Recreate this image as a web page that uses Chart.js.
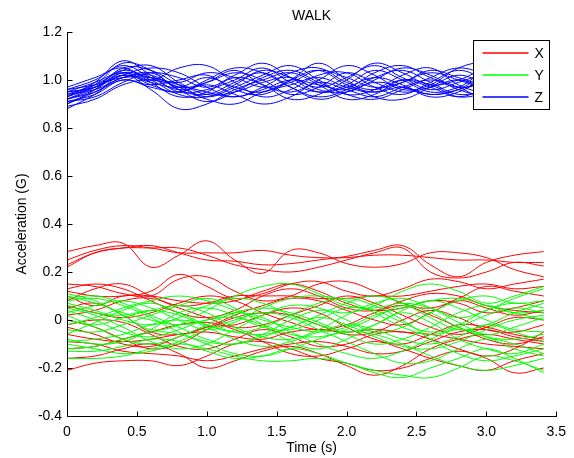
<!DOCTYPE html>
<html><head><meta charset="utf-8">
<script src="https://cdn.jsdelivr.net/npm/chart.js@4"></script>
<style>html,body{margin:0;padding:0;background:#fff}canvas{display:block}</style>
</head><body>
<canvas id="c" width="574" height="458"></canvas>
<script>
// sample times (s)
const timeS = [0,0.2,0.4,0.6,0.8,1.0,1.2,1.4,1.6,1.8,2.0,2.2,2.4,2.6,2.8,3.0,3.2,3.41];

// X-axis acceleration traces (G)
const accelX = [
 [0.285,0.31,0.32,0.22,0.27,0.33,0.25,0.195,0.29,0.28,0.235,0.22,0.235,0.28,0.28,0.26,0.21,0.18],
 [0.23,0.28,0.30,0.31,0.28,0.25,0.245,0.23,0.235,0.25,0.265,0.29,0.31,0.23,0.18,0.24,0.27,0.285],
 [0.22,0.28,0.30,0.30,0.30,0.27,0.23,0.21,0.20,0.22,0.25,0.28,0.30,0.20,0.175,0.20,0.24,0.225],
 [0.25,0.29,0.31,0.30,0.28,0.28,0.28,0.29,0.27,0.26,0.26,0.27,0.27,0.26,0.25,0.25,0.24,0.24],
 [0.15,0.14,0.11,0.10,0.17,0.18,0.12,0.08,0.10,0.15,0.16,0.12,0.07,0.05,0.09,0.14,0.12,0.10],
 [0.12,0.10,0.10,0.12,0.19,0.14,0.09,0.11,0.15,0.16,0.12,0.10,0.13,0.17,0.16,0.13,0.15,0.17],
 [0.08,0.13,0.15,0.10,0.06,0.07,0.10,0.10,0.10,0.09,0.09,0.10,0.10,0.12,0.14,0.15,0.13,0.14],
 [0.10,0.06,0.10,0.10,0.08,0.07,0.08,0.12,0.15,0.12,0.07,0.04,0.05,0.08,0.07,0.03,0.05,0.08],
 [0.05,0.07,0.02,-0.05,-0.06,-0.03,0.02,0.06,0.09,0.08,0.04,0.00,-0.02,0.03,0.08,0.05,0.02,0.04],
 [0.00,-0.03,-0.08,-0.12,-0.10,-0.04,0.01,0.03,0.02,-0.02,-0.06,-0.05,0.00,0.04,0.01,-0.04,-0.05,-0.02],
 [-0.03,-0.06,-0.10,-0.11,-0.07,-0.03,-0.02,0.02,0.05,0.03,-0.03,-0.08,-0.10,-0.06,-0.02,-0.03,-0.06,-0.08],
 [-0.06,-0.08,-0.09,-0.08,-0.06,-0.05,-0.07,-0.08,-0.05,-0.04,-0.05,-0.04,-0.05,-0.06,-0.08,-0.10,-0.11,-0.12],
 [-0.09,-0.10,-0.13,-0.14,-0.15,-0.17,-0.15,-0.12,-0.10,-0.09,-0.11,-0.14,-0.13,-0.09,-0.05,-0.04,-0.07,-0.09],
 [-0.21,-0.18,-0.17,-0.17,-0.19,-0.15,-0.10,-0.09,-0.12,-0.16,-0.18,-0.21,-0.20,-0.16,-0.13,-0.16,-0.22,-0.20],
 [-0.16,-0.15,-0.12,-0.10,-0.14,-0.20,-0.17,-0.13,-0.11,-0.14,-0.19,-0.23,-0.19,-0.12,-0.08,-0.06,-0.08,-0.10],
 [0.02,0.04,0.08,0.09,0.05,0.01,-0.03,-0.02,0.02,0.06,0.10,0.07,0.02,-0.03,-0.06,-0.03,0.01,0.00],
 [0.13,0.15,0.13,0.08,0.03,0.01,0.04,0.10,0.13,0.10,0.05,0.04,0.08,0.11,0.10,0.06,0.04,0.03],
 [-0.02,0.00,-0.01,-0.06,-0.11,-0.12,-0.08,-0.04,-0.07,-0.11,-0.10,-0.06,-0.05,-0.08,-0.12,-0.15,-0.12,-0.05],
 [0.06,0.03,0.01,0.03,0.07,0.10,0.08,0.03,-0.01,-0.04,-0.02,0.03,0.06,0.02,-0.03,-0.08,-0.10,-0.07],
 [-0.12,-0.11,-0.08,-0.05,-0.02,-0.01,-0.04,-0.09,-0.14,-0.15,-0.12,-0.09,-0.12,-0.16,-0.19,-0.21,-0.17,-0.14]
];

// Y-axis acceleration traces (G)
const accelY = [
 [0.11,0.08,0.02,-0.04,-0.02,0.04,0.10,0.14,0.15,0.11,0.06,0.05,0.07,0.05,0.01,0.04,0.09,0.13],
 [0.09,0.10,0.07,0.02,-0.03,-0.08,-0.10,-0.06,0.00,0.04,0.03,0.06,0.12,0.15,0.12,0.07,0.10,0.14],
 [0.05,0.02,-0.03,-0.09,-0.12,-0.10,-0.04,0.02,0.06,0.05,0.00,-0.05,-0.03,0.03,0.08,0.10,0.07,0.08],
 [0.03,0.06,0.08,0.05,0.00,-0.04,-0.01,0.05,0.09,0.10,0.08,0.03,-0.03,-0.06,-0.03,0.02,0.05,0.03],
 [0.00,-0.02,0.01,0.04,0.06,0.03,-0.03,-0.07,-0.08,-0.04,0.02,0.07,0.09,0.05,-0.01,-0.06,-0.03,0.01],
 [-0.04,-0.05,-0.02,0.02,0.06,0.09,0.05,-0.02,-0.09,-0.12,-0.08,-0.02,0.03,-0.01,-0.08,-0.12,-0.14,-0.10],
 [-0.06,-0.01,0.04,0.07,0.03,-0.02,-0.05,-0.03,0.02,0.07,0.09,0.06,0.00,-0.08,-0.14,-0.17,-0.15,-0.12],
 [-0.09,-0.08,-0.06,-0.02,0.00,-0.02,-0.05,-0.06,-0.03,0.01,-0.02,-0.07,-0.11,-0.12,-0.09,-0.04,0.00,0.02],
 [-0.12,-0.11,-0.08,-0.05,-0.06,-0.10,-0.14,-0.15,-0.12,-0.08,-0.05,-0.06,-0.10,-0.15,-0.19,-0.21,-0.19,-0.16],
 [-0.16,-0.16,-0.15,-0.12,-0.10,-0.12,-0.15,-0.17,-0.17,-0.16,-0.18,-0.22,-0.24,-0.20,-0.16,-0.12,-0.16,-0.22],
 [0.07,0.04,0.00,-0.02,0.01,0.06,0.09,0.07,0.02,-0.02,-0.05,-0.02,0.04,0.08,0.05,0.00,-0.04,-0.05],
 [0.02,-0.03,-0.08,-0.10,-0.07,-0.02,0.03,0.05,0.03,-0.01,-0.06,-0.10,-0.08,-0.03,0.03,0.06,0.03,0.00],
 [-0.02,0.01,0.05,0.08,0.10,0.08,0.04,0.00,-0.03,-0.05,-0.03,0.02,0.05,0.08,0.09,0.06,0.03,0.04],
 [0.10,0.07,0.03,0.00,-0.02,0.00,0.03,0.01,-0.05,-0.10,-0.14,-0.16,-0.13,-0.08,-0.04,-0.07,-0.12,-0.15],
 [-0.08,-0.10,-0.09,-0.04,0.03,0.05,0.02,-0.03,-0.04,0.00,0.05,0.04,-0.01,-0.05,-0.02,0.04,0.07,0.05],
 [-0.10,-0.12,-0.14,-0.13,-0.09,-0.04,0.00,0.03,0.01,-0.04,-0.09,-0.14,-0.18,-0.17,-0.12,-0.08,-0.10,-0.14],
 [0.04,0.00,-0.05,-0.07,-0.04,0.00,0.01,-0.02,-0.06,-0.07,-0.04,0.01,0.06,0.03,-0.03,-0.07,-0.08,-0.06],
 [0.08,0.09,0.06,0.01,-0.05,-0.09,-0.10,-0.07,-0.03,0.02,0.07,0.10,0.07,0.01,-0.04,-0.02,0.03,0.07],
 [-0.13,-0.13,-0.11,-0.08,-0.09,-0.13,-0.16,-0.15,-0.12,-0.14,-0.18,-0.21,-0.23,-0.24,-0.20,-0.15,-0.17,-0.21],
 [0.06,0.03,0.02,0.04,0.02,-0.03,-0.08,-0.11,-0.09,-0.05,-0.02,-0.04,-0.08,-0.10,-0.07,-0.02,-0.05,-0.09]
];

// Z-axis acceleration traces (G)
const accelZ = [
 [0.93,0.99,1.08,1.02,0.95,0.96,1.00,1.05,0.99,0.95,0.98,1.04,1.00,0.95,0.97,1.03,0.99,0.96],
 [0.90,0.96,1.05,1.04,0.98,0.93,0.97,1.02,1.06,1.00,0.94,0.96,1.02,1.05,0.98,0.95,0.99,1.01],
 [0.95,0.97,1.03,1.00,1.05,1.06,0.99,0.93,0.96,1.02,1.03,0.97,0.94,0.99,1.04,1.00,0.96,0.98],
 [0.88,0.94,1.02,0.96,0.88,0.90,0.96,1.00,1.03,0.98,0.92,0.94,1.00,0.98,0.93,0.95,1.00,0.97],
 [0.96,1.00,1.06,1.01,0.96,0.99,1.04,0.98,0.95,1.00,1.06,1.02,0.96,0.98,1.05,1.07,1.02,1.00],
 [0.92,0.95,1.00,0.98,1.00,1.02,0.96,0.94,1.00,1.07,1.00,0.93,0.92,0.97,1.02,0.98,0.94,0.95],
 [0.94,0.98,1.04,1.06,0.99,0.94,0.95,0.99,1.01,0.96,0.95,1.00,1.05,1.02,0.96,0.94,0.97,1.03],
 [0.91,0.93,0.99,1.03,1.01,0.97,1.02,1.07,1.01,0.95,0.97,1.01,0.98,0.93,0.95,1.01,1.05,1.00],
 [0.97,1.01,1.05,0.99,0.93,0.95,1.01,0.98,0.92,0.94,1.00,1.07,1.03,0.98,1.00,1.04,0.99,0.94],
 [0.89,0.92,0.98,1.00,0.97,0.92,0.90,0.95,0.98,1.01,0.97,0.95,0.99,1.03,1.00,0.96,0.93,0.96],
 [0.93,0.97,1.02,1.05,1.03,0.97,0.93,0.97,1.03,1.05,0.99,0.96,1.00,0.97,0.93,0.97,1.02,1.05],
 [0.95,0.99,1.03,0.98,0.95,1.00,1.05,1.03,0.97,0.93,0.96,1.03,1.06,1.01,0.97,0.99,1.03,0.99],
 [0.90,0.95,1.01,1.02,0.96,0.91,0.95,1.01,1.04,0.99,0.94,0.92,0.96,1.01,1.05,1.02,0.97,0.94],
 [0.94,0.96,1.01,1.03,0.97,0.99,1.03,1.00,0.94,0.97,1.03,0.99,0.95,0.97,1.00,0.96,0.93,0.97],
 [0.92,0.97,1.04,1.00,0.94,0.93,0.98,1.04,1.01,0.97,1.01,1.06,1.01,0.96,0.99,1.03,1.06,1.02],
 [0.96,0.98,1.01,1.01,0.99,1.03,1.01,0.97,0.99,1.04,1.01,0.97,0.99,1.04,1.01,0.98,1.00,1.04],
 [0.91,0.94,1.00,0.97,0.95,0.98,0.94,0.90,0.93,0.99,0.96,0.93,0.97,1.00,0.97,0.92,0.95,0.99],
 [0.93,0.98,1.07,1.04,0.96,0.94,0.99,1.03,0.97,0.92,0.95,0.99,0.97,0.94,0.96,1.00,1.03,1.01],
 [0.95,0.97,1.02,0.99,0.97,1.01,0.97,0.95,1.00,1.04,0.98,0.95,0.97,0.94,0.96,1.02,0.98,0.95],
 [0.92,0.96,1.03,1.01,0.98,0.95,0.93,0.96,1.00,0.98,0.96,1.01,1.04,0.99,0.94,0.96,1.00,0.96]
];

const seriesNames = ['X', 'Y', 'Z'];
const seriesColors = ['#ff0000', '#00ff00', '#0000ff'];
const chartTitle = 'WALK';
const xAxisTitle = 'Time (s)';
const yAxisTitle = 'Acceleration (G)';

const FONT = { family: '"Liberation Sans", Arial, Helvetica, sans-serif', size: 14, weight: 'normal' };

const groups = [accelX, accelY, accelZ];
const datasets = [];
groups.forEach((traces, g) => {
  traces.forEach(tr => {
    datasets.push({
      label: seriesNames[g],
      data: tr.map((v, i) => ({ x: timeS[i], y: v })),
      borderColor: seriesColors[g],
      backgroundColor: seriesColors[g],
      borderWidth: 1,
      pointRadius: 0,
      tension: 0.4,
      fill: false,
      order: 3 - g
    });
  });
});

const axesPlugin = {
  id: 'matlabAxes',
  afterDatasetsDraw(chart) {
    const { ctx, chartArea: a, scales: { x, y } } = chart;
    ctx.save();
    ctx.strokeStyle = '#000';
    ctx.lineWidth = 1;
    ctx.beginPath();
    const L = Math.round(a.left) + 0.5, B = Math.round(a.bottom) + 0.5;
    ctx.moveTo(L, Math.round(a.top));
    ctx.lineTo(L, B);
    ctx.lineTo(Math.round(a.right) + 1, B);
    x.ticks.forEach(t => {
      const px = Math.round(x.getPixelForValue(t.value)) + 0.5;
      ctx.moveTo(px, B); ctx.lineTo(px, B - 5);
    });
    y.ticks.forEach(t => {
      const py = Math.round(y.getPixelForValue(t.value)) + 0.5;
      ctx.moveTo(L, py); ctx.lineTo(L + 5, py);
    });
    ctx.stroke();
    ctx.restore();
  }
};

const legendPlugin = {
  id: 'boxLegend',
  afterDatasetsDraw(chart) {
    const { ctx, chartArea: a } = chart;
    const w = 76, h = 69;
    const left = Math.round(a.right - 7 - w) + 0.5, top = Math.round(a.top + 8) + 0.5;
    ctx.save();
    ctx.fillStyle = '#fff';
    ctx.fillRect(left, top, w, h);
    ctx.strokeStyle = '#000';
    ctx.lineWidth = 1;
    ctx.strokeRect(left, top, w, h);
    ctx.font = '14px "Liberation Sans", Arial, sans-serif';
    ctx.textBaseline = 'middle';
    ctx.textAlign = 'left';
    seriesNames.forEach((name, i) => {
      const yy = Math.round(top + 12 + i * 22);
      ctx.strokeStyle = seriesColors[i];
      ctx.lineWidth = 1.4;
      ctx.beginPath();
      ctx.moveTo(left + 9, yy); ctx.lineTo(left + 55, yy);
      ctx.stroke();
      ctx.fillStyle = '#000';
      ctx.fillText(name, left + 61, yy + 1);
    });
    ctx.restore();
  }
};

new Chart(document.getElementById('c'), {
  type: 'line',
  data: { datasets },
  options: {
    responsive: false,
    animation: false,
    devicePixelRatio: 1,
    layout: { padding: { left: 0, right: 17, top: 0, bottom: 0 } },
    plugins: {
      legend: { display: false },
      tooltip: { enabled: false },
      title: {
        display: true, text: chartTitle, fullSize: false, color: '#000',
        font: FONT, padding: { top: 7.6, bottom: 7.6 }
      }
    },
    scales: {
      x: {
        type: 'linear', min: 0, max: 3.5,
        ticks: { stepSize: 0.5, padding: 8, font: FONT, color: '#000', maxRotation: 0, autoSkip: false },
        grid: { display: false, drawTicks: false },
        border: { display: false },
        title: { display: true, text: xAxisTitle, font: FONT, color: '#000', padding: { top: 0, bottom: 1.6 } },
        afterFit(s) { s.height = 42; }
      },
      y: {
        type: 'linear', min: -0.4, max: 1.2,
        ticks: { stepSize: 0.2, padding: 5, font: FONT, color: '#000', autoSkip: false },
        grid: { display: false, drawTicks: false },
        border: { display: false },
        title: { display: true, text: yAxisTitle, font: FONT, color: '#000', padding: { top: 13.6, bottom: 0 } },
        afterFit(s) { s.width = 67; }
      }
    }
  },
  plugins: [axesPlugin, legendPlugin]
});
</script>
</body></html>
